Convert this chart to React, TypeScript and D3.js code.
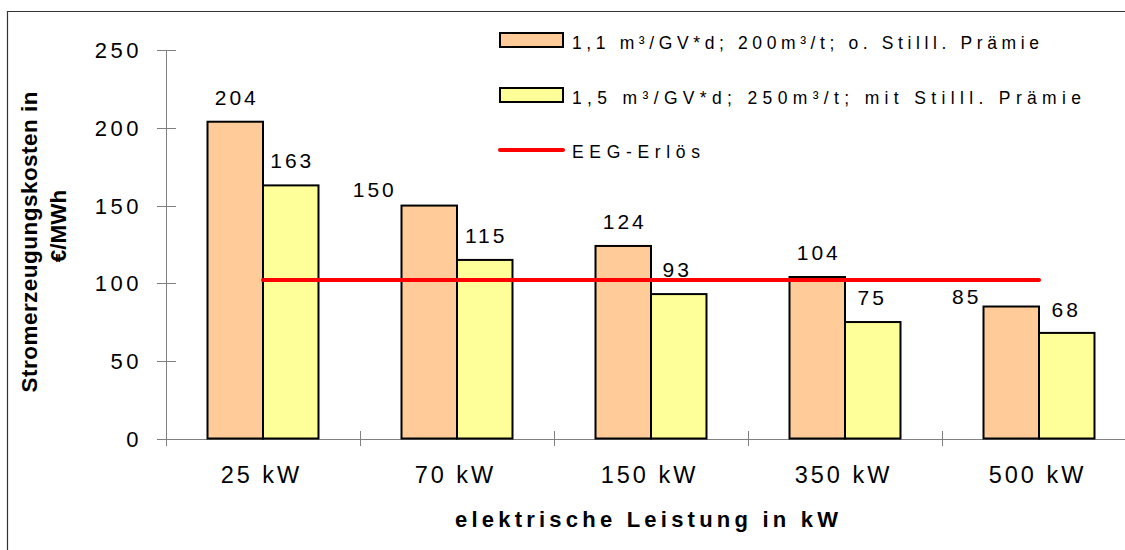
import React from "react";
import * as d3 from "d3";

const categories = ["25 kW", "70 kW", "150 kW", "350 kW", "500 kW"];
const seriesNames = [
  "1,1 m³/GV*d; 200m³/t; o. Stilll. Prämie",
  "1,5 m³/GV*d; 250m³/t; mit Stilll. Prämie",
];
const seriesA = [204, 150, 124, 104, 85];
const seriesB = [163, 115, 93, 75, 68];
const eegName = "EEG-Erlös";
const eegValue = [102, 102, 102, 102, 102];
const yTicks = [0, 50, 100, 150, 200, 250];
const yTitle = ["Stromerzeugungskosten in", "€/MWh"];
const xTitle = "elektrische Leistung in kW";

// label placement tweaks (style, not data)
const labelShiftA = [
  [0, -17],
  [-56, -9],
  [0, -17],
  [0, -17],
  [-46, -3],
];
const labelShiftB = [
  [0, -17],
  [0, -17],
  [-3, -17],
  [-2, -17],
  [-2, -16],
];

const W = 1125;
const H = 550;
const FONT = "'Liberation Sans', Arial, sans-serif";
const COLORS = ["#FFCC99", "#FFFF99"];

export default function App() {
  const x0 = d3.scaleBand<string>().domain(categories).range([166, 166 + 5 * 194]).padding(0);
  const x1 = d3
    .scaleBand<number>()
    .domain([0, 1])
    .range([0, x0.bandwidth()])
    .paddingInner(0)
    .paddingOuter(0.748);
  const y = d3.scaleLinear().domain([0, 250]).range([438.5, 50.3]);
  const series = [seriesA, seriesB];
  const shifts = [labelShiftA, labelShiftB];

  const line = d3
    .line<number>()
    .x((_, i) => (x0(categories[i]) as number) + x0.bandwidth() / 2)
    .y((d) => y(d));

  const ls = 3;

  return (
    <svg
      width={W}
      height={H}
      style={{ position: "absolute", left: 0, top: 0, background: "#fff" }}
      fontFamily={FONT}
    >
      <rect x={0} y={0} width={W} height={H} fill="#fff" />
      {/* outer frame */}
      <path d={`M7.5,${H} V11.5 H${W}`} fill="none" stroke="#333" strokeWidth={1.2} />

      {/* y axis */}
      <line x1={166.5} x2={166.5} y1={y(250)} y2={y(0)} stroke="#808080" strokeWidth={1} />
      {yTicks.map((t) => (
        <g key={t}>
          <line x1={157} x2={176} y1={Math.round(y(t)) + 0.5} y2={Math.round(y(t)) + 0.5} stroke="#808080" />
          <text
            x={138.5 + 3.5}
            y={y(t) + 8}
            textAnchor="end"
            fontSize={22}
            letterSpacing={3.5}
            fill="#000"
          >
            {t}
          </text>
        </g>
      ))}

      {/* x axis */}
      <line x1={166} x2={W} y1={Math.round(y(0)) + 0.5} y2={Math.round(y(0)) + 0.5} stroke="#808080" />
      {categories.map((c) => (
        <line
          key={c}
          x1={(x0(c) as number) + 0.5}
          x2={(x0(c) as number) + 0.5}
          y1={431}
          y2={446}
          stroke="#808080"
        />
      ))}
      {categories.map((c) => (
        <text
          key={c}
          x={(x0(c) as number) + x0.bandwidth() / 2 - 3 + ls / 2}
          y={482.5}
          textAnchor="middle"
          fontSize={23.5}
          letterSpacing={ls}
        >
          {c}
        </text>
      ))}

      {/* bars */}
      {series.map((s, si) =>
        s.map((v, i) => {
          const bx = (x0(categories[i]) as number) + (x1(si) as number);
          return (
            <rect
              key={`${si}-${i}`}
              x={bx}
              y={y(v)}
              width={x1.bandwidth()}
              height={y(0) - y(v)}
              fill={COLORS[si]}
              stroke="#000"
              strokeWidth={2}
            />
          );
        })
      )}

      {/* EEG line */}
      <path d={line(eegValue) || ""} fill="none" stroke="#FF0000" strokeWidth={4} strokeLinecap="round" />

      {/* data labels */}
      {series.map((s, si) =>
        s.map((v, i) => {
          const cx = (x0(categories[i]) as number) + (x1(si) as number) + x1.bandwidth() / 2;
          return (
            <text
              key={`l${si}-${i}`}
              x={cx + shifts[si][i][0] + ls / 2}
              y={y(v) + shifts[si][i][1]}
              textAnchor="middle"
              fontSize={21}
              letterSpacing={ls}
            >
              {v}
            </text>
          );
        })
      )}

      {/* legend */}
      {seriesNames.map((n, i) => (
        <g key={n}>
          <rect x={500} y={33 + i * 55} width={63} height={14} fill={COLORS[i]} stroke="#000" strokeWidth={2} />
          <text x={572} y={49 + i * 55} fontSize={17.5} textLength={467 + i * 42} lengthAdjust="spacing">
            {n}
          </text>
        </g>
      ))}
      <line x1={500} x2={563} y1={150} y2={150} stroke="#FF0000" strokeWidth={4} strokeLinecap="round" />
      <text x={572} y={158} fontSize={17.5} textLength={128} lengthAdjust="spacing">
        {eegName}
      </text>

      {/* axis titles */}
      <text
        transform="translate(36.5,242) rotate(-90)"
        textAnchor="middle"
        fontSize={22.5}
        fontWeight="bold"
        textLength={301}
        lengthAdjust="spacing"
      >
        {yTitle[0]}
      </text>
      <text
        transform="translate(66,226) rotate(-90)"
        textAnchor="middle"
        fontSize={22.5}
        fontWeight="bold"
      >
        {yTitle[1]}
      </text>
      <text
        x={455}
        y={527}
        fontSize={22}
        fontWeight="bold"
        textLength={383}
        lengthAdjust="spacing"
      >
        {xTitle}
      </text>
    </svg>
  );
}
